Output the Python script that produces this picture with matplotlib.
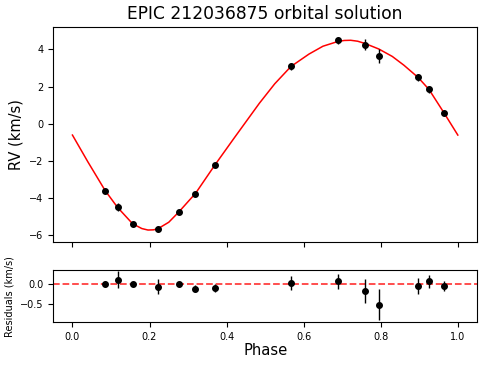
import numpy as np
import matplotlib
matplotlib.use('Agg')
import matplotlib.pyplot as plt

# observed RVs, phase folded
phase = [0.085, 0.117, 0.156, 0.221, 0.276, 0.319, 0.369, 0.567, 0.688, 0.759, 0.795, 0.897, 0.925, 0.964]
rv = [-3.60, -4.50, -5.38, -5.66, -4.75, -3.76, -2.24, 3.08, 4.48, 4.25, 3.66, 2.49, 1.85, 0.59]
rv_err = [0.075, 0.21, 0.05, 0.18, 0.06, 0.09, 0.10, 0.18, 0.18, 0.30, 0.38, 0.20, 0.17, 0.12]
resid = [0.00, 0.107, 0.00, -0.066, -0.01, -0.115, -0.10, 0.03, 0.066, -0.18, -0.51, -0.04, 0.066, -0.04]

# orbital model
model_phase = [0.0, 0.04, 0.085, 0.117, 0.156, 0.18, 0.196, 0.21, 0.221, 0.25, 0.276, 0.304, 0.319,
               0.369, 0.42, 0.485, 0.525, 0.567, 0.614, 0.65, 0.688, 0.705, 0.722, 0.74, 0.759,
               0.795, 0.83, 0.86, 0.897, 0.925, 0.964, 1.0]
model_rv = [-0.61, -2.05, -3.60, -4.50, -5.38, -5.64, -5.72, -5.71, -5.66, -5.30, -4.75, -4.10, -3.76,
            -2.24, -0.76, 1.10, 2.15, 3.08, 3.75, 4.17, 4.42, 4.48, 4.49, 4.44, 4.32,
            4.02, 3.62, 3.15, 2.49, 1.85, 0.59, -0.61]

fig = plt.figure(figsize=(4.79, 3.66), dpi=100)
ax = fig.add_axes([0.111, 0.339, 0.885, 0.587])
axr = fig.add_axes([0.111, 0.120, 0.885, 0.142], sharex=ax)

ax.plot(model_phase, model_rv, c='r', lw=1.1)
ax.errorbar(phase, rv, yerr=rv_err, fmt='o', c='k', ms=4, elinewidth=1, capsize=0)
ax.set_ylabel('RV (km/s)', fontsize=10.5)
ax.set_title('EPIC 212036875 orbital solution', fontsize=12.3)
ax.set_xlim(-0.05, 1.05)
ax.set_ylim(-6.36, 5.2)
ax.set_yticks([-6, -4, -2, 0, 2, 4])
ax.tick_params(labelsize=7, labelbottom=False)

axr.axhline(0, c='r', ls='--', lw=1.3, alpha=0.75)
axr.errorbar(phase, resid, yerr=rv_err, fmt='o', c='k', ms=4, elinewidth=1, capsize=0)
axr.set_ylim(-0.94, 0.345)
axr.set_yticks([-0.5, 0.0])
axr.set_xticks([0.0, 0.2, 0.4, 0.6, 0.8, 1.0])
axr.set_xlabel('Phase', fontsize=10.6, labelpad=1)
axr.set_ylabel('Residuals (km/s)', fontsize=7)
axr.tick_params(labelsize=7)

fig.savefig('out.png', dpi=100)
